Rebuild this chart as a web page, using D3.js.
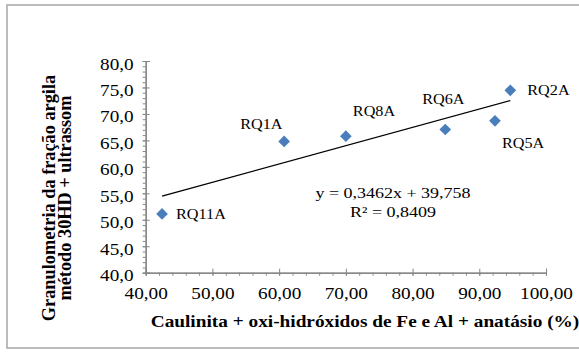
<!DOCTYPE html>
<html>
<head>
<meta charset="utf-8">
<script src="https://cdn.jsdelivr.net/npm/d3@7"></script>
<style>
  body { margin: 0; background: #fff; }
  svg text { font-family: "Liberation Serif", "Times New Roman", serif; fill: #000; }
</style>
</head>
<body>
<div id="chart"></div>
<script>
// sample data
const sampleNames = ["RQ11A", "RQ1A", "RQ8A", "RQ6A", "RQ5A", "RQ2A"];
const mineralSum = [42.45, 60.75, 70.0, 84.9, 92.35, 94.65];     // Caulinita + oxi-hidróxidos + anatásio (%)
const clayFraction = [51.1, 64.8, 65.8, 67.05, 68.7, 74.45];     // granulometria fração argila
const xTicks = [40, 50, 60, 70, 80, 90, 100];
const yTicks = [40, 45, 50, 55, 60, 65, 70, 75, 80];
const trendSlope = 0.3462, trendIntercept = 39.758;
const trendLabel = ["y = 0,3462x + 39,758", "R² = 0,8409"];

(function scatter_chart() {
    const width = 579, height = 352;
    const stretch = 1.2;   // the original figure is widened horizontally

    const svg = d3.select("#chart")
        .append("svg")
        .attr("width", width)
        .attr("height", height);

    // widen a text around its own anchor point
    function widen(sel, s) {
        sel.each(function () {
            let t = d3.select(this);
            let tx = +t.attr("x") || 0, ty = +t.attr("y") || 0;
            t.attr("x", 0).attr("y", 0)
                .attr("transform", `translate(${tx},${ty}) scale(${s},1)`);
        });
    }

    // outer frame
    svg.append("rect")
        .attr("x", 7).attr("y", 5)
        .attr("width", 590).attr("height", 343)
        .attr("fill", "none")
        .attr("stroke", "#a6a6a6")
        .attr("stroke-width", 1.5);

    let x = d3.scaleLinear().domain([40, 100]).range([145.7, 546]);
    let y = d3.scaleLinear().domain([40, 80]).range([272.7, 61]);

    const loc = d3.formatLocale({ decimal: ",", thousands: ".", grouping: [3], currency: ["", ""] });

    // minor ticks (outside only)
    svg.append("g")
        .attr("transform", `translate(${x(40)},0)`)
        .call(d3.axisLeft(y).tickValues(d3.range(40, 80.5, 1)).tickSize(3).tickFormat(""));
    svg.append("g")
        .attr("transform", `translate(0,${y(40)})`)
        .call(d3.axisBottom(x).tickValues(d3.range(40, 100.5, 2)).tickSize(3).tickFormat(""));

    // major ticks cross the axis
    svg.append("g")
        .attr("transform", `translate(${x(40)},0)`)
        .call(d3.axisRight(y).tickValues(yTicks).tickSize(4).tickFormat(""));
    svg.append("g")
        .attr("transform", `translate(0,${y(40)})`)
        .call(d3.axisTop(x).tickValues(xTicks).tickSize(4).tickFormat(""));

    svg.append("g")
        .attr("class", "y-axis")
        .attr("transform", `translate(${x(40)},0)`)
        .call(d3.axisLeft(y).tickValues(yTicks).tickSize(3).tickSizeOuter(0)
            .tickPadding(9).tickFormat(loc.format(".1f")));

    svg.append("g")
        .attr("class", "x-axis")
        .attr("transform", `translate(0,${y(40)})`)
        .call(d3.axisBottom(x).tickValues(xTicks).tickSize(3).tickSizeOuter(0)
            .tickPadding(12).tickFormat(loc.format(".2f")));

    svg.selectAll(".domain, .tick line").attr("stroke", "#868686");
    svg.selectAll(".y-axis text, .x-axis text")
        .attr("font-size", 16)
        .style("font-family", "'Liberation Serif', serif")
        .attr("fill", "#000");
    svg.selectAll(".y-axis text").attr("dy", "0.5em");
    widen(svg.selectAll(".y-axis text, .x-axis text"), stretch);

    // axis titles
    svg.append("text")
        .attr("x", 365).attr("y", 327)
        .attr("text-anchor", "middle")
        .attr("font-size", 16.5)
        .attr("font-weight", "bold")
        .text("Caulinita + oxi-hidróxidos de Fe e Al + anatásio (%)")
        .call(widen, 1.17);

    // rotated title: glyph height gets the widening, not the text length
    const yStretch = 1.04;
    let yTitle = svg.append("text")
        .attr("transform", `translate(0,198) scale(${yStretch},1) rotate(-90)`)
        .attr("text-anchor", "middle")
        .attr("font-size", 18.3)
        .attr("font-weight", "bold");
    yTitle.append("tspan").attr("x", 0).attr("y", 55 / yStretch).text("Granulometria da fração argila");
    yTitle.append("tspan").attr("x", 0).attr("y", 71 / yStretch).text("método 30HD + ultrassom");

    let points = sampleNames.map((name, i) => ({ name, x: mineralSum[i], y: clayFraction[i] }));

    // linear trendline over the data range
    let xExt = d3.extent(mineralSum);
    let line = d3.line()
        .x(d => x(d))
        .y(d => y(trendSlope * d + trendIntercept));
    svg.append("path")
        .datum(xExt)
        .attr("d", line)
        .attr("fill", "none")
        .attr("stroke", "#000")
        .attr("stroke-width", 1.3);

    svg.selectAll(".pt")
        .data(points)
        .join("path")
        .attr("class", "pt")
        .attr("d", d3.symbol(d3.symbolSquare, 68))
        .attr("transform", d => `translate(${x(d.x)},${y(d.y)}) rotate(45)`)
        .attr("fill", "#4a7ebb");

    const labelOffsets = {
        RQ11A: [14, 5], RQ1A: [-44, -12], RQ8A: [7, -20],
        RQ6A: [-23, -26], RQ5A: [7, 27], RQ2A: [17, 5]
    };
    svg.selectAll(".lbl")
        .data(points)
        .join("text")
        .attr("class", "lbl")
        .attr("x", d => x(d.x) + labelOffsets[d.name][0])
        .attr("y", d => y(d.y) + labelOffsets[d.name][1])
        .attr("font-size", 15)
        .text(d => d.name)
        .call(widen, 1.08);

    svg.selectAll(".eq")
        .data(trendLabel)
        .join("text")
        .attr("class", "eq")
        .attr("x", 393)
        .attr("y", (d, i) => 198 + i * 18.5)
        .attr("text-anchor", "middle")
        .attr("font-size", 15)
        .text(d => d)
        .call(widen, stretch);
})();
</script>
</body>
</html>
